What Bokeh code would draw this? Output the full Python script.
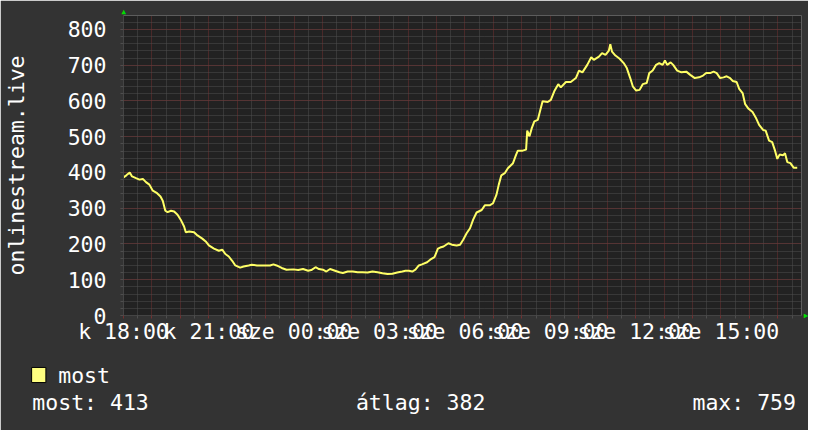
from bokeh.plotting import figure
from bokeh.models import Range1d, FixedTicker, SingleIntervalTicker, Label
from bokeh.embed import file_html
from bokeh.resources import INLINE

# ---- data (hours after Tuesday 18:00, viewers) ----
hours = [0.00, 0.10, 0.22, 0.30, 0.44, 0.56, 0.68, 0.79, 0.91, 1.03, 1.18, 1.30,
         1.38, 1.47, 1.55, 1.67, 1.78, 1.90, 2.01, 2.13, 2.19, 2.31, 2.48, 2.60,
         2.77, 2.89, 3.00, 3.18, 3.35, 3.47, 3.58, 3.70, 3.82, 3.93, 4.10, 4.22,
         4.40, 4.51, 4.69, 4.92, 5.15, 5.27, 5.38, 5.56, 5.73, 5.97, 6.14, 6.31,
         6.49, 6.60, 6.75, 6.87, 7.01, 7.13, 7.26, 7.41, 7.59, 7.71, 7.88, 8.06,
         8.23, 8.40, 8.58, 8.75, 8.93, 9.10, 9.28, 9.45, 9.62, 9.80, 9.91, 10.03,
         10.15, 10.26, 10.38, 10.49, 10.67, 10.78, 10.93, 11.05, 11.13, 11.25,
         11.42, 11.54, 11.71, 11.83, 11.94, 12.06, 12.18, 12.29, 12.41, 12.59,
         12.70, 12.87, 12.99, 13.11, 13.19, 13.28, 13.40, 13.51, 13.69, 13.80,
         13.86, 14.03, 14.15, 14.19, 14.27, 14.35, 14.44, 14.56, 14.65, 14.73,
         14.91, 15.02, 15.14, 15.28, 15.37, 15.55, 15.72, 15.90, 16.01, 16.13,
         16.30, 16.44, 16.53, 16.71, 16.82, 16.94, 17.06, 17.11, 17.17, 17.29,
         17.44, 17.58, 17.69, 17.81, 17.90, 18.02, 18.14, 18.25, 18.39, 18.48,
         18.60, 18.72, 18.83, 18.95, 19.03, 19.11, 19.23, 19.32, 19.46, 19.61,
         19.78, 19.92, 20.08, 20.23, 20.37, 20.48, 20.62, 20.74, 20.85, 20.97,
         21.09, 21.20, 21.32, 21.41, 21.55, 21.64, 21.76, 21.85, 21.97, 22.11,
         22.22, 22.34, 22.48, 22.57, 22.69, 22.80, 22.90, 22.98, 23.06, 23.18,
         23.25, 23.33, 23.44, 23.56, 23.68]
values = [386, 392, 400, 389, 384, 380, 382, 373, 366, 349, 342, 333,
          321, 293, 289, 293, 291, 282, 268, 249, 233, 235, 233, 224,
          215, 207, 196, 187, 181, 184, 172, 165, 153, 140, 134, 137,
          140, 142, 140, 140, 140, 143, 140, 133, 128, 129, 127, 130,
          125, 127, 135, 130, 128, 123, 130, 126, 121, 119, 123, 123,
          121, 121, 120, 123, 121, 118, 116, 117, 120, 123, 125, 125,
          123, 128, 140, 143, 149, 156, 163, 187, 190, 193,
          202, 198, 196, 198, 212, 230, 244, 268, 288, 295,
          308, 308, 314, 338, 366, 392, 398, 412, 426, 450,
          461, 461, 464, 517, 501, 524, 543, 547, 575, 599,
          597, 603, 627, 647, 638, 653, 653, 664, 685, 680,
          701, 722, 715, 724, 734, 729, 741, 759, 738, 727,
          718, 706, 692, 664, 641, 629, 631, 647, 650, 678,
          685, 701, 706, 701, 713, 701, 708, 701, 685, 680,
          682, 673, 664, 666, 671, 678, 678, 682, 678, 664,
          666, 669, 664, 656, 653, 634, 622, 591, 578, 569,
          554, 533, 519, 517, 489, 485, 461, 438, 450, 448,
          454, 429, 426, 413, 413]

x_tick_labels = {0: "k 18:00", 3: "k 21:00", 6: "sze 00:00", 9: "sze 03:00",
                 12: "sze 06:00", 15: "sze 09:00", 18: "sze 12:00", 21: "sze 15:00"}
y_title = "onlinestream.live"
series_name = "most"
stat_texts = ["most: 413", "átlag: 382", "max: 759"]

# ---- styling ----
FONT = "DejaVu Sans Mono"
FS = "21.5px"
BG = "#333333"
CANVAS = "#222222"
MGRID = "#723030"
GRID = "#4e4e4e"
LINE = "#ffff66"
GREEN = "#00dd00"

W, H = 808, 430
L, R, T, B = 117, 801, 15, 315
X1, Y1 = 23.83, 839

p = figure(width=W, height=H, output_backend="svg", toolbar_location=None,
           x_range=Range1d(0, X1), y_range=Range1d(0, Y1),
           min_border_left=L, min_border_right=W - R,
           min_border_top=T, min_border_bottom=H - B)
p.background_fill_color = CANVAS
p.border_fill_color = BG
p.outline_line_color = None

hour_ticks = list(range(0, 24))
half_ticks = [h + 0.5 for h in range(0, 24)]
xt = FixedTicker(ticks=hour_ticks, minor_ticks=half_ticks)
p.xaxis.ticker = xt
p.xaxis.major_label_overrides = {h: x_tick_labels.get(h, "") for h in hour_ticks}
p.xgrid.ticker = xt
yt = SingleIntervalTicker(interval=100, num_minor_ticks=5)
p.yaxis.ticker = yt
p.ygrid.ticker = yt

for ax in (p.xaxis, p.yaxis):
    ax.axis_line_color = "#444444"
    ax.major_tick_line_color = MGRID
    ax.minor_tick_line_color = GRID
    ax.major_tick_out = 3
    ax.major_tick_in = 0
    ax.minor_tick_out = 3
    ax.minor_tick_in = 0
    ax.major_label_text_font = FONT
    ax.major_label_text_font_size = FS
    ax.major_label_text_color = "#ffffff"

p.xaxis.major_label_standoff = 0
p.yaxis.major_label_standoff = 14
p.yaxis.axis_label = y_title
p.yaxis.axis_label_text_font = FONT
p.yaxis.axis_label_text_font_size = FS
p.yaxis.axis_label_text_font_style = "normal"
p.yaxis.axis_label_text_color = "#ffffff"
p.yaxis.axis_label_standoff = 36

for g in (p.xgrid, p.ygrid):
    g.grid_line_color = MGRID
    g.grid_line_dash = "1 1"
    g.grid_line_width = 1
    g.minor_grid_line_color = GRID
    g.minor_grid_line_dash = "1 1"
    g.minor_grid_line_width = 1

p.line(hours, values, line_color=LINE, line_width=2)


# ---- annotations in side panels (not clipped), placed via the data scales ----
def dx(fx):
    return (fx - L) / (R - L) * X1


def dy(fy):
    return (B - fy) / (B - T) * Y1


NB = "\u00a0"
legend_block = (NB * 2 + series_name + "\n" +
                stat_texts[0] + NB * 16 + stat_texts[1] + NB * 16 + stat_texts[2])

# legend name + statistics (two lines, monospaced columns)
p.add_layout(Label(x=dx(25), y=dy(388.3), text=legend_block,
                   text_font=FONT, text_font_size=FS, text_color="#ffffff",
                   text_line_height=1.1,
                   text_align="left", text_baseline="middle"), "below")
# coloured legend square
p.add_layout(Label(x=dx(31.5), y=dy(374.5), text=NB, text_font_size="1px",
                   text_align="center", text_baseline="middle", padding=7,
                   background_fill_color="#ffff80", border_line_color="#000000",
                   border_line_width=1), "below")

# green axis arrows
p.add_layout(Label(x=dx(117.2), y=dy(10.5), text="\u25b2", text_font=FONT,
                   text_font_size="7.5px", text_color=GREEN,
                   text_align="center", text_baseline="middle"), "above")
p.add_layout(Label(x=dx(805.5), y=dy(314.5), text="\u25b6", text_font=FONT,
                   text_font_size="7.5px", text_color=GREEN,
                   text_align="center", text_baseline="middle"), "below")

open("out.html", "w").write(file_html(p, INLINE))
